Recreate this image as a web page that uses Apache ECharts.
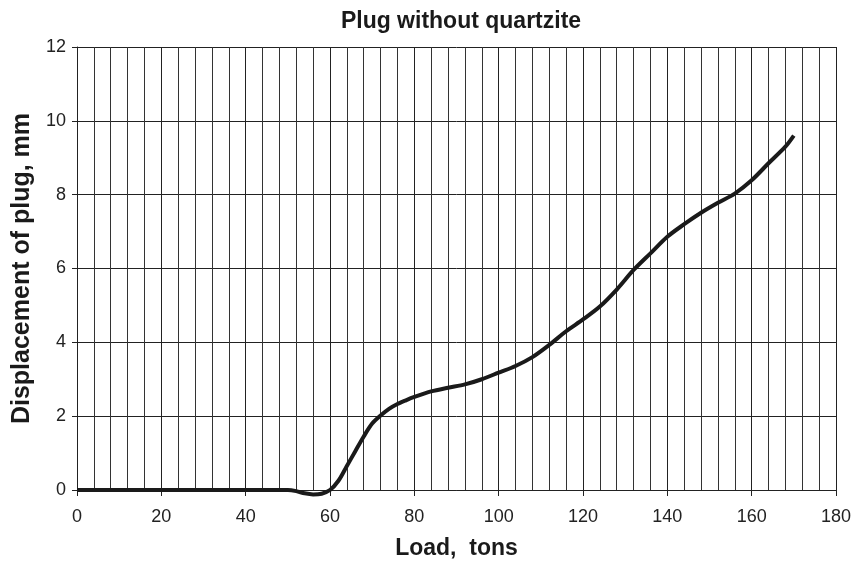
<!DOCTYPE html>
<html>
<head>
<meta charset="utf-8">
<script src="https://cdn.jsdelivr.net/npm/echarts@6/dist/echarts.min.js"></script>
<style>html,body{margin:0;padding:0;background:#fff;}#c{width:854px;height:568px;}</style>
</head>
<body>
<div id="c"></div>
<script>
var loadTons = [0,5,10,15,20,25,30,35,40,45,50,52,54,56,58,60,62,64,66,68,70,72,74,76,78,80,84,88,92,96,100,104,108,112,116,120,124,128,132,136,140,144,148,152,156,160,164,168,170];
var displacementMm = [0,0,0,0,0,0,0,0,0,0,0,-0.03,-0.09,-0.12,-0.1,0,0.25,0.65,1.05,1.45,1.8,2.02,2.2,2.33,2.43,2.52,2.67,2.77,2.86,3.0,3.18,3.36,3.6,3.93,4.3,4.62,4.97,5.43,5.96,6.41,6.86,7.2,7.51,7.78,8.03,8.39,8.85,9.3,9.6];
var titleText = 'Plug without quartzite';
var xName = 'Load,  tons';
var yName = 'Displacement of plug, mm';

var pts = loadTons.map(function(x,i){return [x, displacementMm[i]];});
var chart = echarts.init(document.getElementById('c'), null, {renderer:'canvas'});
var font = 'Liberation Sans, Arial, sans-serif';
chart.setOption({
  animation:false,
  backgroundColor:'#fff',
  title:{text:titleText,left:456,top:5,textAlign:'center',textStyle:{fontFamily:font,fontWeight:'bold',fontSize:23,color:'#1a1a1a'}},
  grid:{left:77,right:18,top:47,bottom:78,containLabel:false},
  xAxis:{type:'value',min:0,max:180,interval:20,
    name:xName,nameLocation:'middle',nameGap:47,
    nameTextStyle:{fontFamily:font,fontWeight:'bold',fontSize:23,color:'#1a1a1a'},
    axisLine:{show:true,lineStyle:{color:'#222',width:1}},
    axisTick:{show:true,length:6,inside:false,lineStyle:{color:'#222'}},
    minorTick:{show:false,splitNumber:5},
    axisLabel:{fontFamily:font,fontSize:18,color:'#222',margin:18},
    splitLine:{show:true,lineStyle:{color:'#222',width:1}},
    minorSplitLine:{show:true,lineStyle:{color:'#333',width:1}}
  },
  yAxis:{type:'value',min:0,max:12,interval:2,
    name:yName,nameLocation:'middle',nameGap:42,
    nameTextStyle:{fontFamily:font,fontWeight:'bold',fontSize:25,color:'#1a1a1a'},
    axisLine:{show:true,lineStyle:{color:'#222',width:1}},
    axisTick:{show:true,length:5,lineStyle:{color:'#222'}},
    axisLabel:{fontFamily:font,fontSize:18,color:'#222',margin:11},
    splitLine:{show:true,lineStyle:{color:'#222',width:1}}
  },
  series:[{type:'line',data:pts,smooth:0.3,showSymbol:false,symbol:'none',clip:false,
    lineStyle:{color:'#1a1a1a',width:4},z:5}]
});
</script>
</body>
</html>
